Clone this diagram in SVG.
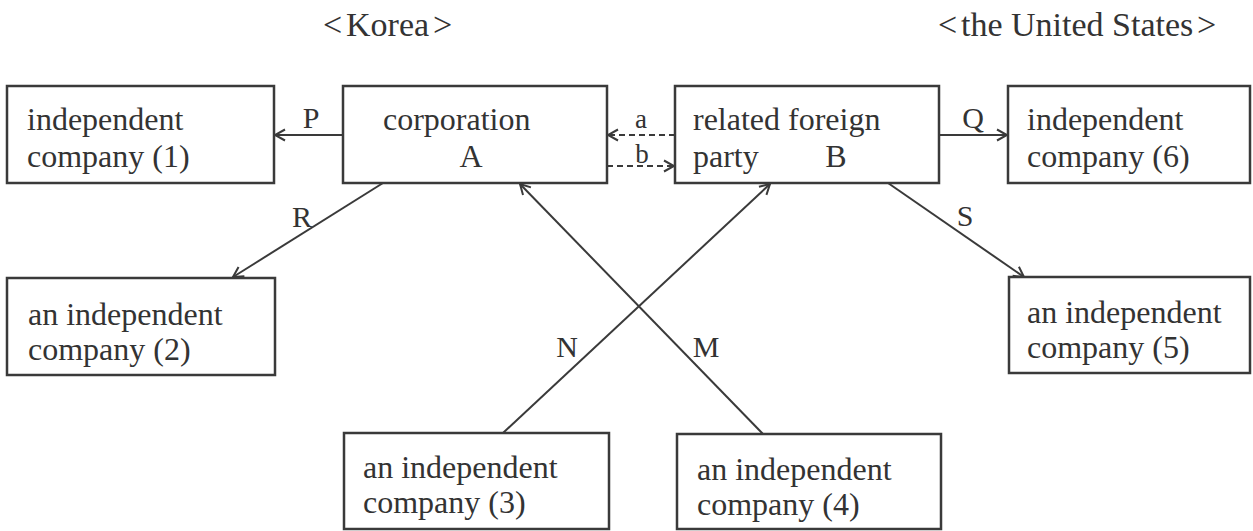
<svg xmlns="http://www.w3.org/2000/svg" width="1253" height="531" viewBox="0 0 1253 531">
<style>
.box{fill:#fff;stroke:#3a3a3a;stroke-width:2.5}
.t{font-family:"Liberation Serif","Times New Roman",serif;font-size:32px;fill:#333}
.h{font-size:34px}
.lbl{font-family:"Liberation Serif","Times New Roman",serif;font-size:30px;fill:#333;text-anchor:middle}
.sm{font-size:27px}
.c{text-anchor:middle}
.ln{stroke:#3a3a3a;stroke-width:2;fill:none}
.dash{stroke-dasharray:6 4}
</style>
<defs>
<marker id="arr" viewBox="-13 -8 15 16" refX="0" refY="0" markerWidth="15" markerHeight="16" markerUnits="userSpaceOnUse" orient="auto">
<path d="M-10,-5.5 L0,0 L-10,5.5" fill="none" stroke="#3a3a3a" stroke-width="2"/>
</marker>
</defs>
<rect width="1253" height="531" fill="#fff"/>
<g id="headers">
<text class="t h" y="36"><tspan x="323">&lt;</tspan><tspan x="346">Korea</tspan><tspan x="433">&gt;</tspan></text>
<text class="t h" y="36"><tspan x="938">&lt;</tspan><tspan x="961">the United States</tspan><tspan x="1197">&gt;</tspan></text>
</g>
<g id="connectors">
<line class="ln" x1="343" y1="135" x2="275" y2="135" marker-end="url(#arr)"/>
<line class="ln dash" x1="675" y1="135" x2="608" y2="135" marker-end="url(#arr)"/>
<line class="ln dash" x1="607" y1="166" x2="674" y2="166" marker-end="url(#arr)"/>
<line class="ln" x1="939" y1="135" x2="1007" y2="135" marker-end="url(#arr)"/>
<line class="ln" x1="383" y1="183" x2="233" y2="277" marker-end="url(#arr)"/>
<line class="ln" x1="888" y1="183" x2="1024" y2="277" marker-end="url(#arr)"/>
<line class="ln" x1="503" y1="433" x2="770" y2="184" marker-end="url(#arr)"/>
<line class="ln" x1="763" y1="434" x2="520" y2="184" marker-end="url(#arr)"/>
<text class="lbl" x="311" y="128">P</text>
<text class="lbl sm" x="641" y="128">a</text>
<text class="lbl sm" x="642" y="163">b</text>
<text class="lbl" x="973" y="128">Q</text>
<text class="lbl" x="302" y="227">R</text>
<text class="lbl" x="965" y="226">S</text>
<text class="lbl" x="567" y="357">N</text>
<text class="lbl" x="706" y="357">M</text>
</g>
<g id="company1">
<rect class="box" x="7" y="86" width="267" height="97"/>
<text class="t" x="27" y="130">independent</text>
<text class="t" x="27" y="167">company (1)</text>
</g>
<g id="corporationA">
<rect class="box" x="343" y="86" width="264" height="97"/>
<text class="t" x="383" y="130">corporation</text>
<text class="t c" x="471" y="167">A</text>
</g>
<g id="partyB">
<rect class="box" x="675" y="86" width="264" height="97"/>
<text class="t" x="693" y="130">related foreign</text>
<text class="t" x="693" y="167">party</text>
<text class="t c" x="836" y="167">B</text>
</g>
<g id="company6">
<rect class="box" x="1008" y="86" width="242" height="97"/>
<text class="t" x="1027" y="130">independent</text>
<text class="t" x="1027" y="167">company (6)</text>
</g>
<g id="company2">
<rect class="box" x="7" y="278" width="268" height="97"/>
<text class="t" x="28" y="325">an independent</text>
<text class="t" x="28" y="360">company (2)</text>
</g>
<g id="company5">
<rect class="box" x="1009" y="277" width="241" height="96"/>
<text class="t" x="1027" y="323">an independent</text>
<text class="t" x="1027" y="358">company (5)</text>
</g>
<g id="company3">
<rect class="box" x="344" y="433" width="265" height="96"/>
<text class="t" x="363" y="478">an independent</text>
<text class="t" x="363" y="513">company (3)</text>
</g>
<g id="company4">
<rect class="box" x="677" y="434" width="264" height="95"/>
<text class="t" x="697" y="480">an independent</text>
<text class="t" x="697" y="515">company (4)</text>
</g>
</svg>
